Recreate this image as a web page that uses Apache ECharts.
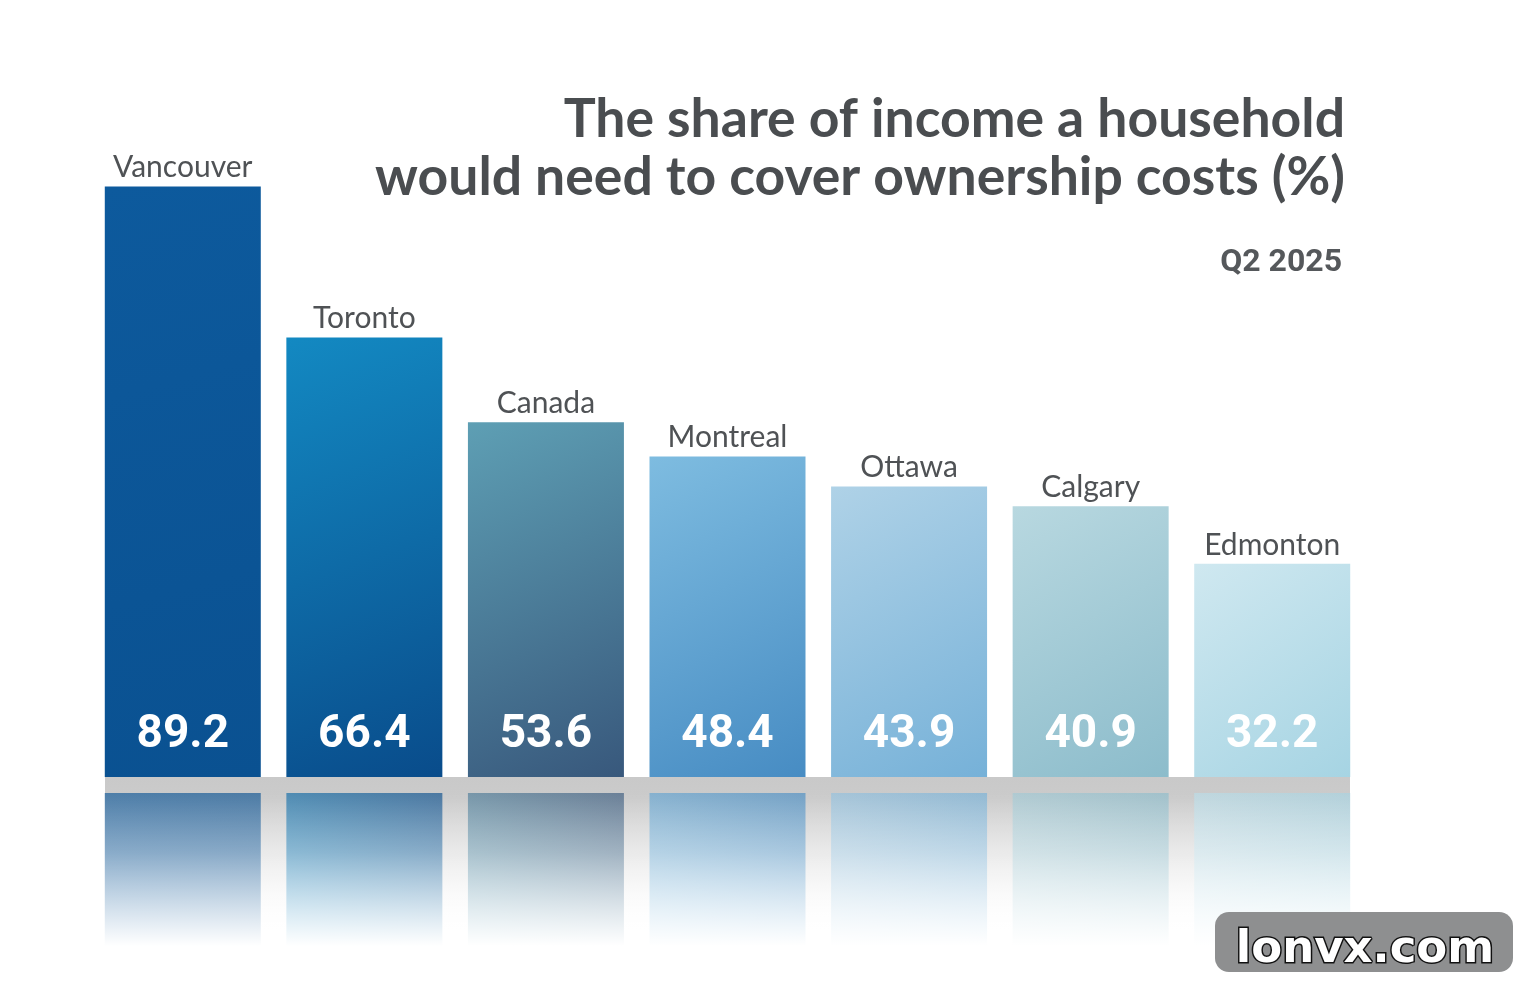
<!DOCTYPE html>
<html>
<head>
<meta charset="utf-8">
<script src="https://cdn.jsdelivr.net/npm/echarts@6/dist/echarts.min.js"></script>
<style>
html,body{margin:0;padding:0;background:#fff;}
#chart{width:1516px;height:984px;}
</style>
</head>
<body>
<div id="chart"></div>
<script>
var categories = ['Vancouver', 'Toronto', 'Canada', 'Montreal', 'Ottawa', 'Calgary', 'Edmonton'];
var values = [89.2, 66.4, 53.6, 48.4, 43.9, 40.9, 32.2];
var titleLines = ['The share of income a household', 'would need to cover ownership costs (%)'];
var subtitle = 'Q2 2025';
var watermark = 'lonvx.com';

var barColors = [
  ['#0d5a9d', '#0a5191'],
  ['#1389c2', '#094c8b'],
  ['#5e9fb4', '#38587c'],
  ['#7ebce0', '#478cc3'],
  ['#afd2e7', '#76b1d8'],
  ['#b8d8e0', '#8cbccb'],
  ['#cfe8f0', '#a6d4e3']
];

function grad(c, flip) {
  return new echarts.graphic.LinearGradient(0, flip ? 1 : 0, 1, flip ? 0 : 1, [
    {offset: 0, color: c[0]}, {offset: 1, color: c[1]}
  ]);
}

var chart = echarts.init(document.getElementById('chart'), null, {renderer: 'canvas'});
var FONT = 'Lato, "Noto Sans", sans-serif';

var option = {
  backgroundColor: '#ffffff',
  animation: false,
  grid: [
    {left: 92, width: 1271, top: 115, height: 662},
    {left: 92, width: 1271, top: 793, height: 160}
  ],
  xAxis: [
    {type: 'category', data: categories, gridIndex: 0, axisLine: {show: false}, axisTick: {show: false}, axisLabel: {show: false}},
    {type: 'category', data: categories, gridIndex: 1, axisLine: {show: false}, axisTick: {show: false}, axisLabel: {show: false}}
  ],
  yAxis: [
    {type: 'value', gridIndex: 0, min: 0, max: 100, show: false, splitLine: {show: false}},
    {type: 'value', gridIndex: 1, min: 0, max: 100 * 160 / 662, inverse: true, show: false, splitLine: {show: false}}
  ],
  series: [
    {
      type: 'bar',
      xAxisIndex: 0, yAxisIndex: 0,
      barWidth: 156,
      data: values.map(function (v, i) {
        return {value: v, itemStyle: {color: grad(barColors[i], false)}};
      }),
      label: {
        show: true,
        position: 'insideBottom',
        distance: 19,
        color: '#ffffff',
        fontFamily: 'Roboto, sans-serif',
        fontWeight: 'bold',
        fontSize: 46,
        formatter: function (p) { return p.value.toFixed(1); }
      },
      z: 3
    },
    {
      type: 'bar',
      xAxisIndex: 0, yAxisIndex: 0,
      barWidth: 156,
      barGap: '-100%',
      data: values,
      itemStyle: {color: 'rgba(0,0,0,0)'},
      label: {
        show: true,
        position: 'top',
        distance: 4,
        color: '#4f5255',
        fontFamily: FONT,
        fontSize: 30,
        formatter: function (p) { return categories[p.dataIndex]; }
      },
      z: 4
    },
    {
      type: 'bar',
      xAxisIndex: 1, yAxisIndex: 1,
      barWidth: 156,
      clip: true,
      data: values.map(function (v, i) {
        return {value: v, itemStyle: {color: grad(barColors[i], true), opacity: 0.65}};
      }),
      z: 3
    }
  ],
  graphic: [
    {
      type: 'text', z: 10,
      x: 1345, y: 91,
      style: {
        text: titleLines.join('\n'),
        fill: '#4a4d50',
        font: 'bold 53.5px Lato, "Noto Sans", sans-serif',
        lineHeight: 58,
        textAlign: 'right',
        textVerticalAlign: 'top'
      }
    },
    {
      type: 'rect', z: 0,
      shape: {x: 105, y: 777, width: 1245, height: 180},
      style: {
        fill: new echarts.graphic.LinearGradient(0, 0, 0, 1, [
          {offset: 0, color: '#c9c9c9'},
          {offset: 0.12, color: '#cbcbcb'},
          {offset: 0.65, color: '#f2f2f2'},
          {offset: 0.85, color: '#ffffff'},
          {offset: 1, color: '#ffffff'}
        ])
      }
    },
    {
      type: 'rect', z: 100,
      shape: {x: 100, y: 793, width: 1256, height: 170},
      style: {
        fill: new echarts.graphic.LinearGradient(0, 0, 0, 1, [
          {offset: 0, color: 'rgba(255,255,255,0)'},
          {offset: 0.35, color: 'rgba(255,255,255,0.3)'},
          {offset: 0.7, color: 'rgba(255,255,255,0.75)'},
          {offset: 0.9, color: 'rgba(255,255,255,1)'},
          {offset: 1, color: 'rgba(255,255,255,1)'}
        ])
      }
    },
    {
      type: 'text', z: 10,
      x: 1342, y: 263,
      style: {
        text: subtitle,
        fill: '#55585b',
        font: 'bold 32px Roboto, sans-serif',
        textAlign: 'right',
        textVerticalAlign: 'middle'
      }
    },
    {
      type: 'group', z: 200,
      children: [
        {
          type: 'rect', z: 200,
          shape: {x: 1215, y: 912, width: 298, height: 60, r: 14},
          style: {fill: '#8e8f90'}
        },
        {
          type: 'text', z: 201,
          x: 1365, y: 950,
          style: {
            text: watermark,
            fill: '#ffffff',
            stroke: '#111111',
            lineWidth: 3,
            font: 'bold 45px "DejaVu Sans", sans-serif',
            textAlign: 'center',
            textVerticalAlign: 'middle'
          }
        }
      ]
    }
  ]
};
chart.setOption(option);
</script>
</body>
</html>
